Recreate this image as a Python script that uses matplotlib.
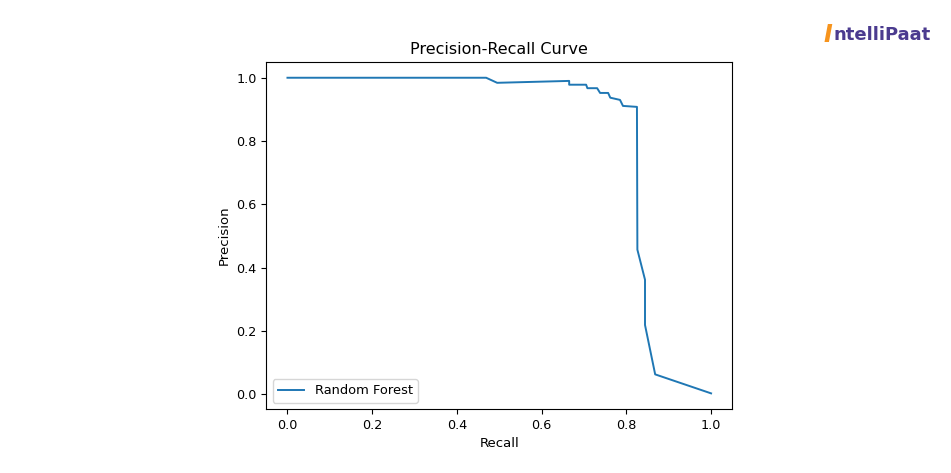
import matplotlib.pyplot as plt

# Precision-recall points
recall = [0.0, 0.469, 0.495, 0.665, 0.665, 0.705, 0.708, 0.731, 0.738, 0.757,
          0.762, 0.785, 0.792, 0.825, 0.825, 0.826, 0.844, 0.844, 0.868, 1.0]
precision = [1.0, 1.0, 0.984, 0.990, 0.978, 0.978, 0.967, 0.967, 0.952, 0.952,
             0.937, 0.930, 0.911, 0.908, 0.900, 0.457, 0.362, 0.219, 0.063, 0.003]

fig = plt.figure(figsize=(9.51, 4.73), dpi=100)
ax = fig.add_axes([0.280, 0.135, 0.490, 0.734])

ax.plot(recall, precision, label="Random Forest", color="#1f77b4", linewidth=1.4)

ax.set_title("Precision-Recall Curve", fontsize=11.5)
ax.set_xlabel("Recall", fontsize=9.5)
ax.set_ylabel("Precision", fontsize=9.5)
ax.tick_params(labelsize=9.2)
ax.legend(loc="lower left", fontsize=9.4)

# logo text in the top-right corner
fig.text(0.866, 0.925, "I", color="#f7941d", fontsize=17, fontweight="bold",
         ha="left", va="center", fontstyle="italic")
fig.text(0.876, 0.925, "ntelliPaat", color="#4b3b8f", fontsize=13, fontweight="bold",
         ha="left", va="center")

fig.savefig("out.png", dpi=100)
